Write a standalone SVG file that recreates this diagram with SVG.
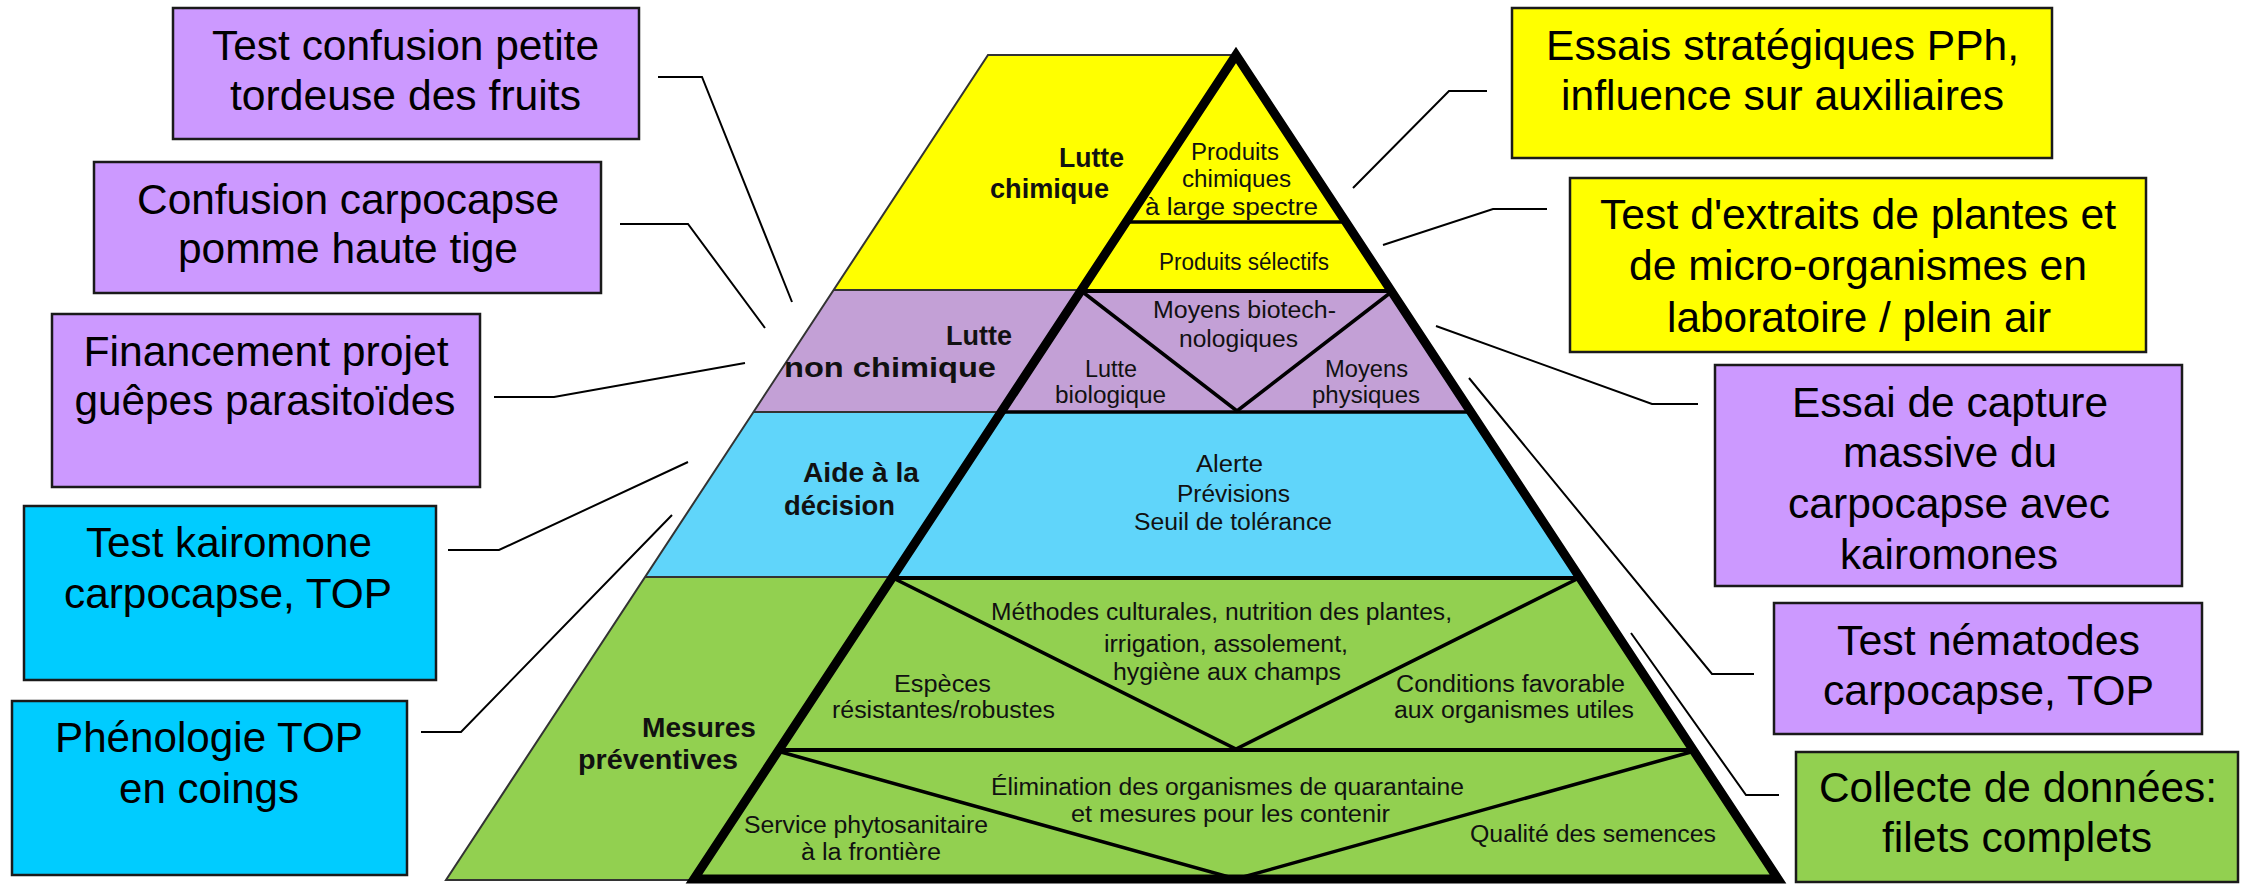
<svg xmlns="http://www.w3.org/2000/svg" width="2251" height="885" viewBox="0 0 2251 885">
<style>
.bx{stroke:#1a1a1a;stroke-width:2.5}
.pu{fill:#CC99FF}.bl{fill:#00CCFF}.ye{fill:#FFFF00}.gr{fill:#92D050}
.bt{font-family:"Liberation Sans",Arial,sans-serif;font-size:42px;text-anchor:middle;fill:#000}
.pb{font-family:"Liberation Sans",Arial,sans-serif;font-size:27px;font-weight:bold;fill:#111}
.pr{font-family:"Liberation Sans",Arial,sans-serif;font-size:23px;fill:#111}
.thin{stroke:#333;stroke-width:2;fill:none}
.mid{stroke:#000;stroke-width:4;fill:none}
.inner{stroke:#000;stroke-width:3.5;fill:none}
.thick{stroke:#000;stroke-width:9;fill:none;stroke-linejoin:miter}
.conn{stroke:#000;stroke-width:2;fill:none}
</style>
<rect width="2251" height="885" fill="#fff"/>
<g id="pyramid">
<polygon points="988,55 1236,55 1390.4,290 833.6,290" fill="#FFFF00"/>
<polygon points="833.6,290 1390.4,290 1470.5,412 753.5,412" fill="#C3A0D6"/>
<polygon points="753.5,412 1470.5,412 1579,577 645,577" fill="#60D5FA"/>
<polygon points="645,577 1579,577 1778,880 446,880" fill="#92D050"/>
<polyline class="thin" points="1236,55 988,55 446,880 694,880"/>
<line class="thin" x1="833.6" y1="290" x2="1082" y2="290"/>
<line class="thin" x1="753.5" y1="412" x2="1002" y2="412"/>
<line class="thin" x1="645" y1="577" x2="893" y2="577"/>
<line class="inner" x1="1126" y1="222" x2="1346" y2="222"/>
<line class="mid" x1="1082" y1="291" x2="1390" y2="291"/>
<line class="inner" x1="1002" y1="412" x2="1470" y2="412"/>
<line class="mid" x1="893" y1="578" x2="1579" y2="578"/>
<line class="mid" x1="779" y1="750" x2="1693" y2="750"/>
<polyline class="inner" points="1084,293 1237,411 1390,293"/>
<polyline class="inner" points="895,579 1236,749 1577,579"/>
<polyline class="inner" points="781,752 1236,879 1691,752"/>
<polygon class="thick" points="1236,55 1778,879 694,879"/>
<text class="pb" x="1059" y="167" textLength="65" lengthAdjust="spacingAndGlyphs">Lutte</text>
<text class="pb" x="990" y="198" textLength="119" lengthAdjust="spacingAndGlyphs">chimique</text>
<text class="pr" x="1191" y="160" textLength="88" lengthAdjust="spacingAndGlyphs">Produits</text>
<text class="pr" x="1182" y="187" textLength="109" lengthAdjust="spacingAndGlyphs">chimiques</text>
<text class="pr" x="1145" y="215" textLength="173" lengthAdjust="spacingAndGlyphs">à large spectre</text>
<text class="pr" x="1159" y="270" textLength="170" lengthAdjust="spacingAndGlyphs">Produits sélectifs</text>
<text class="pb" x="946" y="345" textLength="66" lengthAdjust="spacingAndGlyphs">Lutte</text>
<text class="pb" x="784" y="377" textLength="212" lengthAdjust="spacingAndGlyphs">non chimique</text>
<text class="pr" x="1153" y="318" textLength="183" lengthAdjust="spacingAndGlyphs">Moyens biotech-</text>
<text class="pr" x="1179" y="347" textLength="119" lengthAdjust="spacingAndGlyphs">nologiques</text>
<text class="pr" x="1085" y="377" textLength="52" lengthAdjust="spacingAndGlyphs">Lutte</text>
<text class="pr" x="1055" y="403" textLength="111" lengthAdjust="spacingAndGlyphs">biologique</text>
<text class="pr" x="1325" y="377" textLength="83" lengthAdjust="spacingAndGlyphs">Moyens</text>
<text class="pr" x="1312" y="403" textLength="108" lengthAdjust="spacingAndGlyphs">physiques</text>
<text class="pb" x="803" y="482" textLength="116" lengthAdjust="spacingAndGlyphs">Aide à la</text>
<text class="pb" x="784" y="515" textLength="111" lengthAdjust="spacingAndGlyphs">décision</text>
<text class="pr" x="1196" y="472" textLength="67" lengthAdjust="spacingAndGlyphs">Alerte</text>
<text class="pr" x="1177" y="502" textLength="113" lengthAdjust="spacingAndGlyphs">Prévisions</text>
<text class="pr" x="1134" y="530" textLength="198" lengthAdjust="spacingAndGlyphs">Seuil de tolérance</text>
<text class="pr" x="991" y="620" textLength="461" lengthAdjust="spacingAndGlyphs">Méthodes culturales, nutrition des plantes,</text>
<text class="pr" x="1104" y="652" textLength="244" lengthAdjust="spacingAndGlyphs">irrigation, assolement,</text>
<text class="pr" x="1113" y="680" textLength="228" lengthAdjust="spacingAndGlyphs">hygiène aux champs</text>
<text class="pr" x="894" y="692" textLength="97" lengthAdjust="spacingAndGlyphs">Espèces</text>
<text class="pr" x="832" y="718" textLength="223" lengthAdjust="spacingAndGlyphs">résistantes/robustes</text>
<text class="pr" x="1396" y="692" textLength="229" lengthAdjust="spacingAndGlyphs">Conditions favorable</text>
<text class="pr" x="1394" y="718" textLength="240" lengthAdjust="spacingAndGlyphs">aux organismes utiles</text>
<text class="pb" x="642" y="737" textLength="114" lengthAdjust="spacingAndGlyphs">Mesures</text>
<text class="pb" x="578" y="769" textLength="160" lengthAdjust="spacingAndGlyphs">préventives</text>
<text class="pr" x="991" y="795" textLength="473" lengthAdjust="spacingAndGlyphs">Élimination des organismes de quarantaine</text>
<text class="pr" x="1071" y="822" textLength="319" lengthAdjust="spacingAndGlyphs">et mesures pour les contenir</text>
<text class="pr" x="744" y="833" textLength="244" lengthAdjust="spacingAndGlyphs">Service phytosanitaire</text>
<text class="pr" x="801" y="860" textLength="140" lengthAdjust="spacingAndGlyphs">à la frontière</text>
<text class="pr" x="1470" y="842" textLength="246" lengthAdjust="spacingAndGlyphs">Qualité des semences</text>
</g>
<g id="connectors">
<polyline class="conn" points="658,77 702,77 792,302"/>
<polyline class="conn" points="620,224 688,224 765,328"/>
<polyline class="conn" points="494,397 554,397 745,363"/>
<polyline class="conn" points="448,550 499,550 688,462"/>
<polyline class="conn" points="421,732 461,732 672,515"/>
<polyline class="conn" points="1487,91 1449,91 1353,188"/>
<polyline class="conn" points="1547,209 1493,209 1383,245"/>
<polyline class="conn" points="1698,404 1652,404 1436,326"/>
<polyline class="conn" points="1754,674 1712,674 1469,378"/>
<polyline class="conn" points="1779,795 1746,795 1631,633"/>
</g>
<g id="box1"><rect class="bx pu" x="173" y="8" width="466" height="131"/>
<text class="bt" x="405.5" y="60" textLength="387" lengthAdjust="spacingAndGlyphs">Test confusion petite</text>
<text class="bt" x="405.5" y="110" textLength="351" lengthAdjust="spacingAndGlyphs">tordeuse des fruits</text></g>
<g id="box2"><rect class="bx pu" x="94" y="162" width="507" height="131"/>
<text class="bt" x="348" y="214" textLength="422" lengthAdjust="spacingAndGlyphs">Confusion carpocapse</text>
<text class="bt" x="348" y="263" textLength="340" lengthAdjust="spacingAndGlyphs">pomme haute tige</text></g>
<g id="box3"><rect class="bx pu" x="52" y="314" width="428" height="173"/>
<text class="bt" x="266" y="366" textLength="365" lengthAdjust="spacingAndGlyphs">Financement projet</text>
<text class="bt" x="265" y="415" textLength="381" lengthAdjust="spacingAndGlyphs">guêpes parasitoïdes</text></g>
<g id="box4"><rect class="bx bl" x="24" y="506" width="412" height="174"/>
<text class="bt" x="229" y="557" textLength="286" lengthAdjust="spacingAndGlyphs">Test kairomone</text>
<text class="bt" x="228" y="608" textLength="328" lengthAdjust="spacingAndGlyphs">carpocapse, TOP</text></g>
<g id="box5"><rect class="bx bl" x="12" y="701" width="395" height="174"/>
<text class="bt" x="209" y="752" textLength="308" lengthAdjust="spacingAndGlyphs">Phénologie TOP</text>
<text class="bt" x="209" y="803" textLength="180" lengthAdjust="spacingAndGlyphs">en coings</text></g>
<g id="box6"><rect class="bx ye" x="1512" y="8" width="540" height="150"/>
<text class="bt" x="1782.5" y="60" textLength="473" lengthAdjust="spacingAndGlyphs">Essais stratégiques PPh,</text>
<text class="bt" x="1782.5" y="110" textLength="443" lengthAdjust="spacingAndGlyphs">influence sur auxiliaires</text></g>
<g id="box7"><rect class="bx ye" x="1570" y="178" width="576" height="174"/>
<text class="bt" x="1858" y="229" textLength="516" lengthAdjust="spacingAndGlyphs">Test d'extraits de plantes et</text>
<text class="bt" x="1858" y="280" textLength="458" lengthAdjust="spacingAndGlyphs">de micro-organismes en</text>
<text class="bt" x="1859" y="332" textLength="384" lengthAdjust="spacingAndGlyphs">laboratoire / plein air</text></g>
<g id="box8"><rect class="bx pu" x="1715" y="365" width="467" height="221"/>
<text class="bt" x="1950" y="417" textLength="316" lengthAdjust="spacingAndGlyphs">Essai de capture</text>
<text class="bt" x="1950" y="467" textLength="214" lengthAdjust="spacingAndGlyphs">massive du</text>
<text class="bt" x="1949" y="518" textLength="322" lengthAdjust="spacingAndGlyphs">carpocapse avec</text>
<text class="bt" x="1949" y="569" textLength="218" lengthAdjust="spacingAndGlyphs">kairomones</text></g>
<g id="box9"><rect class="bx pu" x="1774" y="603" width="428" height="131"/>
<text class="bt" x="1988.5" y="655" textLength="303" lengthAdjust="spacingAndGlyphs">Test nématodes</text>
<text class="bt" x="1988.5" y="705" textLength="331" lengthAdjust="spacingAndGlyphs">carpocapse, TOP</text></g>
<g id="box10"><rect class="bx gr" x="1796" y="752" width="442" height="130"/>
<text class="bt" x="2018" y="802" textLength="398" lengthAdjust="spacingAndGlyphs">Collecte de données:</text>
<text class="bt" x="2017" y="852" textLength="270" lengthAdjust="spacingAndGlyphs">filets complets</text></g>
</svg>
